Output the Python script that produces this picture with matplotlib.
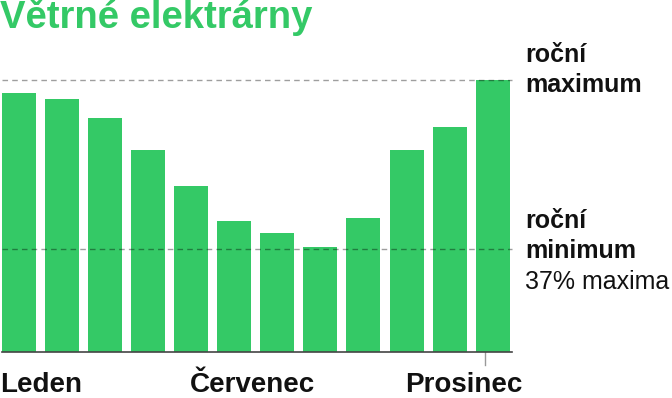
import matplotlib
matplotlib.use("Agg")
import matplotlib.pyplot as plt

months = ["Leden", "Únor", "Březen", "Duben", "Květen", "Červen",
          "Červenec", "Srpen", "Září", "Říjen", "Listopad", "Prosinec"]
# output relative to annual maximum (%)
values = [95.2, 93.0, 86.0, 74.3, 61.0, 48.2, 43.8, 38.6, 49.3, 74.3, 82.7, 100.0]
max_level = 100.0
min_level = 37.8

GREEN = "#34c966"
INK = "#111111"
W, H = 672, 398

plt.rcParams["font.family"] = ["Liberation Sans", "DejaVu Sans"]
fig = plt.figure(figsize=(W / 100, H / 100), dpi=100)
fig.patch.set_facecolor("white")

# axes: bars from x=2..512 px, baseline at y=352, maximum at y=80
ax = fig.add_axes([2 / W, 1 - 352 / H, 510 / W, 272 / H])
ax.set_axis_off()
x = list(range(len(months)))
ax.bar(x, values, width=0.79, color=GREEN, zorder=1)
ax.set_xlim(-0.395, 11.45)
ax.set_ylim(0, 100)

for lvl in (max_level, min_level):
    ax.axhline(lvl, color="black", alpha=0.38, lw=1.0, ls=(0, (4, 3)),
               zorder=3, clip_on=False)
ax.axhline(0, color="#444444", lw=1.2, zorder=4, clip_on=False)
# small tick under the last month
ax.plot([10.82, 10.82], [0, -4.8], color="#999999", lw=1.0, clip_on=False)

fig.text(0 / W, 1 - 28 / H, "Větrné elektrárny", color=GREEN,
         fontsize=27.5, fontweight="bold", ha="left", va="baseline")

side = [("roční", 62, "bold"), ("maximum", 92, "bold"),
        ("roční", 228, "bold"), ("minimum", 258, "bold"),
        ("37% maxima", 289, "normal")]
for txt, base, wt in side:
    fig.text(525 / W, 1 - base / H, txt, fontsize=18, fontweight=wt,
             ha="left", va="baseline", color=INK)

for label, px in (("Leden", 0), ("Červenec", 190), ("Prosinec", 405)):
    fig.text(px / W, 1 - 392 / H, label, fontsize=20, fontweight="bold",
             ha="left", va="baseline", color=INK)

fig.savefig("out.png", dpi=100, facecolor="white")
